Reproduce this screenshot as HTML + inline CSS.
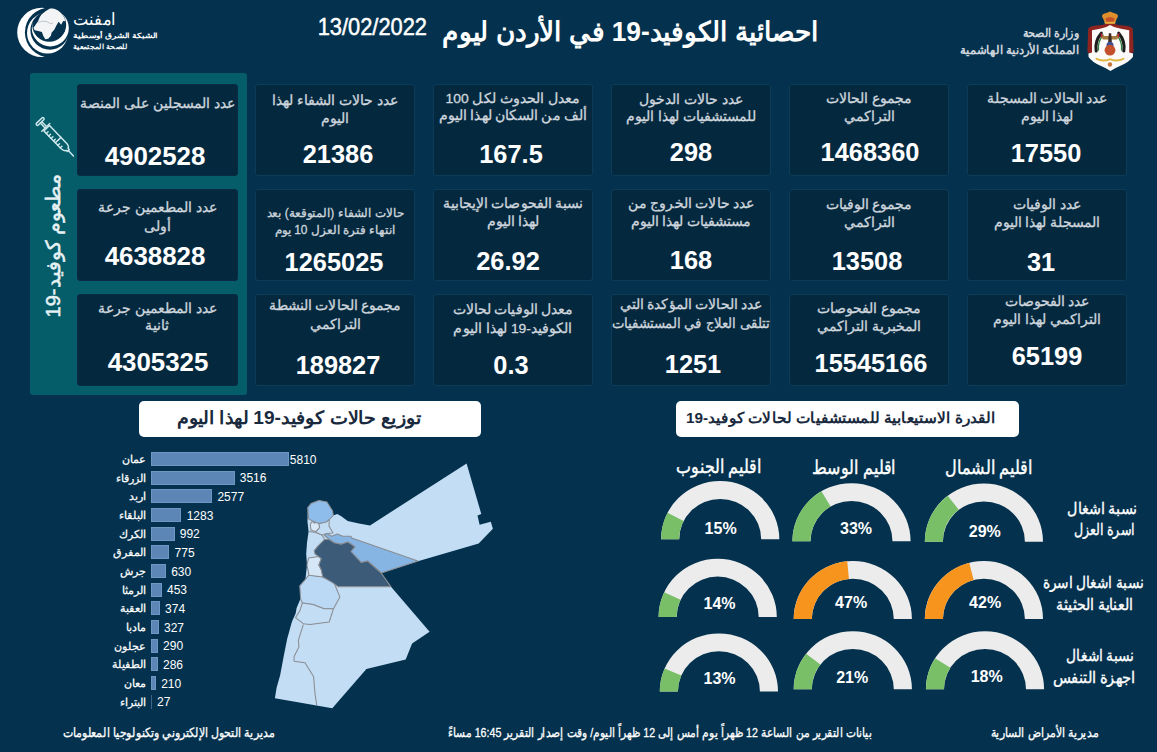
<!DOCTYPE html>
<html lang="ar">
<head>
<meta charset="utf-8">
<title>احصائية الكوفيد-19 في الأردن</title>
<style>
html,body{margin:0;padding:0;}
body{width:1157px;height:752px;overflow:hidden;background:#04324e;font-family:"Liberation Sans",sans-serif;color:#fff;position:relative;}
.abs{position:absolute;}
.card{position:absolute;background:#04293f;border:1px solid #0c3c58;border-radius:3px;box-sizing:border-box;}
.t{position:absolute;white-space:nowrap;transform:translate(-50%,-50%);line-height:1;direction:rtl;}
.lbl{color:#cfd6dd;font-size:13.7px;-webkit-text-stroke:0.3px #cfd6dd;}
.num{color:#fff;font-weight:bold;font-size:25px;direction:ltr;transform:translate(-50%,-50%) scaleX(1.015);}
.vnum{color:#fff;font-weight:bold;font-size:25px;direction:ltr;transform:translate(-50%,-50%) scaleX(1.035);}
.teal{position:absolute;left:30px;top:73px;width:217px;height:322px;background:#065d6a;border-radius:3px;}
.wbox{position:absolute;background:#fff;border-radius:5px;}
.wtxt{color:#0b2d4c;font-weight:bold;}
.bar{position:absolute;left:151px;height:14px;background:#5b86b6;border:1px solid #6e97c4;box-sizing:border-box;}
.bname{position:absolute;white-space:nowrap;line-height:1;font-size:11.2px;-webkit-text-stroke:0.25px #fff;color:#fff;direction:rtl;transform:translate(-100%,-50%);}
.bval{position:absolute;white-space:nowrap;line-height:1;font-size:12px;color:#fff;transform:translate(0,-50%);}
.pct{color:#fff;font-weight:bold;font-size:16px;direction:ltr;}
.reg{color:#fff;font-size:18px;}
.rowl{color:#fff;font-size:15px;}
.foot{color:#fff;font-size:12px;font-weight:bold;}
</style>
</head>
<body>

<svg class="abs" style="left:10px;top:0px" width="70" height="64" viewBox="10 0 70 64">
<defs>
<mask id="m1"><rect x="0" y="0" width="90" height="70" fill="#fff"/><circle cx="49.8" cy="32.4" r="24.9" fill="#000"/></mask>
<mask id="m2"><rect x="0" y="0" width="90" height="70" fill="#fff"/><circle cx="49.8" cy="30.4" r="19.4" fill="#000"/></mask>
<mask id="m3"><rect x="0" y="0" width="90" height="70" fill="#fff"/><circle cx="49.2" cy="24.7" r="17" fill="#000"/></mask>
<clipPath id="gc"><circle cx="49.2" cy="24.7" r="16.6"/></clipPath>
</defs>
<circle cx="41.9" cy="32.4" r="24.7" fill="#fff" mask="url(#m1)"/>
<circle cx="47.5" cy="33" r="20.5" fill="#fff" mask="url(#m2)"/>
<circle cx="50.3" cy="28" r="18.5" fill="#fff" mask="url(#m3)"/>
<g clip-path="url(#gc)" fill="#f3f4f5">
<path d="M41.5 14.5 L45.8 11.1 L50 8.5 L56 8.1 L61.1 11.1 L64.5 16.2 L65.8 21.3 L63.2 20.9 L61.1 24.7 L58.6 21.7 L56.4 25.6 L54.3 29.8 L51.7 32.4 L50.9 35.8 L48.3 38.8 L45.3 39.2 L43.2 35.8 L41.9 31.9 L38.1 31.1 L34.7 30.2 L33.4 28.1 L35.6 24.7 L38.1 21.3 L39.8 17 Z"/>
<path d="M38.3 22.3 L43 21.2 L47 21.6 L50.5 23.6 L53 23" fill="none" stroke="#a9b3bc" stroke-width="0.7"/>
</g>
</svg>

<svg class="abs" style="left:1084px;top:8px" width="54" height="68" viewBox="1084 8 54 68">
<path d="M1110 22.5 Q1104 25 1096 25.5 Q1090 26 1088.2 28.5 L1087.4 52 Q1089 54 1092 53 L1128 53 Q1131 54 1133.6 52 L1132.8 28.5 Q1131 26 1124 25.5 Q1116 25 1110 22.5 Z" fill="#8e2320"/>
<path d="M1110 25 Q1106 28 1100 28.8 L1092 30.2 L1092 52.5 L1088.4 53.5 L1088.6 57 Q1092 62 1100 65.5 Q1106 68 1110.5 71 Q1115 68 1121 65.5 Q1129 62 1132.9 57 L1133.1 53.5 L1129.2 52.5 L1129.2 30.2 L1121 28.8 Q1114.5 28 1110 25 Z" fill="#fbfaf8"/>
<path d="M1105 23.4 L1103.4 19 Q1100.4 15 1104 13.8 Q1107 12.8 1110 11.4 Q1113 12.8 1116 13.8 Q1119.6 15 1116.6 19 L1115 23.4 Z" fill="#de8f2b"/>
<path d="M1106.4 22.6 L1105.4 18.6 Q1110 15.4 1114.6 18.6 L1113.6 22.6 Z" fill="#c5522a"/>
<rect x="1104.8" y="21.8" width="10.4" height="1.9" fill="#e8b13c"/>
<g fill="none" stroke-linecap="round">
<path d="M1101.3 33.2 Q1094.6 41 1096.2 51" stroke="#1d1d1f" stroke-width="3.1"/>
<path d="M1103 35 Q1097.6 42 1098.4 50" stroke="#2b7d3b" stroke-width="1.3"/>
<path d="M1118.7 33.2 Q1125.4 41 1123.8 51" stroke="#1d1d1f" stroke-width="3.1"/>
<path d="M1117 35 Q1122.4 42 1121.6 50" stroke="#2b7d3b" stroke-width="1.3"/>
</g>
<path d="M1100.3 32.6 L1104.2 36.6 L1101.3 38 Z" fill="#c3262d"/>
<path d="M1119.7 32.6 L1115.8 36.6 L1118.7 38 Z" fill="#c3262d"/>
<path d="M1101.6 36 L1118.4 36 L1117.3 39.6 L1102.7 39.6 Z" fill="#a57c3e"/>
<path d="M1108.8 33.3 L1111.2 33.3 L1111.9 43 L1108.1 43 Z" fill="#3b2b22"/>
<circle cx="1110" cy="45.2" r="3.5" fill="#3e4f93"/>
<circle cx="1110" cy="50.2" r="5.4" fill="#c4502b"/>
<path d="M1095.7 57.6 Q1103 61.2 1110 58.2 Q1117 61.2 1124.3 57.6 L1124.3 59.6 Q1117 63.2 1110 60.2 Q1103 63.2 1095.7 59.6 Z" fill="#e3b73f"/>
<circle cx="1110" cy="64.5" r="2.2" fill="#c8763a"/>
</svg>

<div class="teal"></div>
<svg class="abs" style="left:30px;top:110px" width="50" height="52" viewBox="30 110 50 52">
<g transform="translate(40.1,121.4) rotate(46)" fill="none" stroke="#cfe9ee" stroke-width="1.45" stroke-linecap="round" stroke-linejoin="round">
<rect x="-1.2" y="-5" width="2.6" height="10" rx="1.3"/>
<path d="M1.4 -1 L7.5 -1 M1.4 1 L7.5 1"/>
<path d="M8.2 -5.6 L8.2 5.6"/>
<path d="M9.5 -3.9 L34 -3.9 Q38.5 -3.5 38.8 -1.4 L40.6 -1.4 L40.6 1.4 L38.8 1.4 Q38.5 3.5 34 3.9 L9.5 3.9 Z"/>
<path d="M40.6 0 L48 0"/>
<path d="M26 -3.9 L26 3.9"/>
<path d="M13 3.9 L13 1.5 M16.5 3.9 L16.5 1.5 M20 3.9 L20 1.5 M23.5 3.9 L23.5 1.5 M29.5 3.9 L29.5 1.5 M33 3.9 L33 1.5"/>
</g>
</svg>

<div class="card" style="left:967px;top:84px;width:160px;height:92px;"></div>
<div class="t num" style="left:1045.5px;top:153.1px;">17550</div>
<div class="card" style="left:789px;top:84px;width:160px;height:92px;"></div>
<div class="t num" style="left:870px;top:151.8px;">1468360</div>
<div class="card" style="left:611px;top:84px;width:160px;height:92px;"></div>
<div class="t num" style="left:691px;top:151.6px;">298</div>
<div class="card" style="left:433px;top:84px;width:160px;height:92px;"></div>
<div class="t num" style="left:511px;top:153.5px;">167.5</div>
<div class="card" style="left:255px;top:84px;width:160px;height:92px;"></div>
<div class="t num" style="left:337.5px;top:153.5px;">21386</div>
<div class="card" style="left:967px;top:188.6px;width:160px;height:92px;"></div>
<div class="t num" style="left:1041px;top:261.5px;">31</div>
<div class="card" style="left:789px;top:188.6px;width:160px;height:92px;"></div>
<div class="t num" style="left:867px;top:261px;">13508</div>
<div class="card" style="left:611px;top:188.6px;width:160px;height:92px;"></div>
<div class="t num" style="left:691px;top:260.3px;">168</div>
<div class="card" style="left:433px;top:188.6px;width:160px;height:92px;"></div>
<div class="t num" style="left:507.5px;top:260.7px;">26.92</div>
<div class="card" style="left:255px;top:188.6px;width:160px;height:92px;"></div>
<div class="t num" style="left:333.5px;top:261.5px;">1265025</div>
<div class="card" style="left:967px;top:293.6px;width:160px;height:92px;"></div>
<div class="t num" style="left:1047px;top:356px;">65199</div>
<div class="card" style="left:789px;top:293.6px;width:160px;height:92px;"></div>
<div class="t num" style="left:870.5px;top:362.6px;">15545166</div>
<div class="card" style="left:611px;top:293.6px;width:160px;height:92px;"></div>
<div class="t num" style="left:692.5px;top:364px;">1251</div>
<div class="card" style="left:433px;top:293.6px;width:160px;height:92px;"></div>
<div class="t num" style="left:511px;top:364.5px;">0.3</div>
<div class="card" style="left:255px;top:293.6px;width:160px;height:92px;"></div>
<div class="t num" style="left:338px;top:364.5px;">189827</div>
<div class="card" style="left:77px;top:84px;width:160.5px;height:92px;border-color:#0a2a45;"></div>
<div class="t vnum" style="left:154.95px;top:156.2px;">4902528</div>
<div class="card" style="left:77px;top:188.6px;width:160.5px;height:92px;border-color:#0a2a45;"></div>
<div class="t vnum" style="left:154.95px;top:255.5px;">4638828</div>
<div class="card" style="left:77px;top:293.6px;width:160.5px;height:92px;border-color:#0a2a45;"></div>
<div class="t vnum" style="left:158.25px;top:361.8px;">4305325</div>
<div class="wbox" style="left:139px;top:401px;width:342px;height:35.5px;"></div>
<div class="bar" style="top:452px;width:138px;"></div>
<div class="bval" style="left:289.8px;top:459.7px;">5810</div>
<div class="bar" style="top:470.66px;width:83.5126px;"></div>
<div class="bval" style="left:239.713px;top:478.36px;">3516</div>
<div class="bar" style="top:489.32px;width:61.2093px;"></div>
<div class="bval" style="left:217.409px;top:497.02px;">2577</div>
<div class="bar" style="top:507.98px;width:30.474px;"></div>
<div class="bval" style="left:186.674px;top:515.68px;">1283</div>
<div class="bar" style="top:526.64px;width:23.5621px;"></div>
<div class="bval" style="left:179.762px;top:534.34px;">992</div>
<div class="bar" style="top:545.3px;width:18.4079px;"></div>
<div class="bval" style="left:174.608px;top:553px;">775</div>
<div class="bar" style="top:563.96px;width:14.9639px;"></div>
<div class="bval" style="left:171.164px;top:571.66px;">630</div>
<div class="bar" style="top:582.62px;width:10.7597px;"></div>
<div class="bval" style="left:166.96px;top:590.32px;">453</div>
<div class="bar" style="top:601.28px;width:8.8833px;"></div>
<div class="bval" style="left:165.083px;top:608.98px;">374</div>
<div class="bar" style="top:619.94px;width:7.76695px;"></div>
<div class="bval" style="left:163.967px;top:627.64px;">327</div>
<div class="bar" style="top:638.6px;width:6.88812px;"></div>
<div class="bval" style="left:163.088px;top:646.3px;">290</div>
<div class="bar" style="top:657.26px;width:6.79312px;"></div>
<div class="bval" style="left:162.993px;top:664.96px;">286</div>
<div class="bar" style="top:675.92px;width:4.98795px;"></div>
<div class="bval" style="left:161.188px;top:683.62px;">210</div>
<div class="bar" style="top:694.58px;width:0.8px;border:none;background:#3f6489;"></div>
<div class="bval" style="left:157px;top:702.28px;">27</div>
<svg class="abs" style="left:270px;top:455px" width="230" height="260" viewBox="270 455 230 260">
<g stroke="#8a8d92" stroke-width="1.05" stroke-linejoin="round">
<!-- whole country base -->
<path fill="#c3ddf5" stroke="none" d="M307.8 507.6 L311 503.6 L318.9 500.4 L326.9 502 L332.5 510.8 L333.3 515.5 L337.3 514 L341.3 516.3 L347.7 521.1 L358.9 523.5 L370 525.4 L466.6 463.5 L481.3 514 L477.5 515.4 L479.6 524.7 L490.8 521.8 L492.9 528.7 L478.7 543.4 L417.9 561.3 L381.2 573 L390.8 586.6 L429.6 631.7 L412.1 643.6 L405.7 659.6 L366.4 668.9 L332.3 708.3 L274.9 698.3 L276.6 687.7 L280.2 674.9 L283.8 655.7 L287.2 638.7 L291.9 621.7 L295.7 613.2 L296.6 608.1 L300.6 598.6 L299.8 585.8 L305.4 579.4 L307 565 L306.2 553.9 L307 542.7 L308.6 531.5 L307.5 521.9 Z"/>
<!-- Karak -->
<path fill="#bbd9f5" d="M299.8 585.8 L305.4 579.4 L308.9 575 L321 576.5 L333.5 581.3 L337 590 L339.9 596.9 L333.5 608.7 L324 608.7 L313 604.5 L302.4 603 L300.6 598.6 Z"/>
<!-- Tafilah -->
<path fill="#c3ddf5" d="M302.4 603 L313 604.5 L324 608.7 L333.5 608.7 L329.2 622 L310.2 624.6 L303.3 623.7 L295.5 617.7 L299.8 610.8 Z"/>
<!-- Aqaba / Maan border -->
<path fill="none" d="M303.3 624.6 L298.4 640.2 L298.9 647.1 L294.1 656.6 L294.1 661.3 L305 662.7 L313.6 676.5 L315 693.8 L316.7 705"/>
<!-- Madaba -->
<path fill="#d5e6f6" d="M308.6 558 L318.9 556.5 L321.3 558.6 L318.9 565 L321.3 569.8 L322.9 577 L309 575.2 L307 565 Z"/>
<!-- Balqa outline -->
<path fill="none" d="M308.6 531.5 L316 532.5 L322 535 L324.5 539.5"/>
<!-- Ajloun -->
<path fill="#d8e8f6" d="M310.2 524.3 L312.6 521.1 L314.5 523.3 L316.6 521.9 L318.9 523.5 L319.7 527.5 L315.8 531.8 L311 529.9 Z"/>
<!-- Jerash -->
<path fill="#c3ddf5" d="M319.7 527.5 L318.9 523.5 L326.1 521.9 L329.3 519.5 L329 526 L333 533 L326.9 533.4 L322 535 L316 532.5 L315.8 531.8 Z"/>
<!-- Irbid -->
<path fill="#8fbdeb" d="M307.8 507.6 L311 503.6 L318.9 500.4 L326.9 502 L332.5 510.8 L333.3 515.5 L329.3 519.5 L326.1 521.9 L318.9 523.5 L312.6 521.1 L308.6 518.7 Z"/>
<!-- Zarqa -->
<path fill="#86b5e3" d="M324.5 535.5 L326.9 533.4 L331.7 536.3 L337.3 533.9 L342.9 536.3 L350.9 536.3 L351.7 537.9 L417.9 561 L381.2 573 L367.6 561 L361.3 562.6 L350.9 551.5 L354.9 546.7 L347.7 541.9 L341.3 544.3 L334.1 542.7 L329.3 539.5 Z"/>
<!-- Amman -->
<path fill="#3b5b79" d="M314.2 550.7 L318.1 545.9 L324.5 539.5 L329.3 539.5 L334.1 542.7 L341.3 544.3 L347.7 541.9 L354.9 546.7 L350.9 551.5 L361.3 562.6 L367.6 561 L381.2 573 L390.8 586.6 L338.1 586.6 L332.5 582.6 L322.9 577 L321.3 569.8 L318.9 565 L321.3 558.6 L315 553.9 Z"/>
</g>
</svg>

<div class="wbox" style="left:676px;top:401px;width:343px;height:35.5px;"></div>
<svg class="abs" style="left:640px;top:470px" width="430" height="230" viewBox="640 470 430 230">
<path d="M661.10 539.20 A59.1 58.1 0 0 1 779.30 539.20 L761.20 539.20 A41 40.3063 0 0 0 679.20 539.20 Z" fill="#ececec"/>
<path d="M661.10 539.20 A59.1 58.1 0 0 1 667.54 512.82 L683.67 520.90 A41 40.3063 0 0 0 679.20 539.20 Z" fill="#79bf68"/>
<path d="M792.40 541.20 A59.1 58.1 0 0 1 910.60 541.20 L892.50 541.20 A41 40.3063 0 0 0 810.50 541.20 Z" fill="#ececec"/>
<path d="M792.40 541.20 A59.1 58.1 0 0 1 821.42 491.19 L830.63 506.51 A41 40.3063 0 0 0 810.50 541.20 Z" fill="#79bf68"/>
<path d="M924.80 541.70 A59.1 58.1 0 0 1 1043.00 541.70 L1024.90 541.70 A41 40.3063 0 0 0 942.90 541.70 Z" fill="#ececec"/>
<path d="M924.80 541.70 A59.1 58.1 0 0 1 947.68 495.79 L958.77 509.85 A41 40.3063 0 0 0 942.90 541.70 Z" fill="#79bf68"/>
<path d="M658.60 616.90 A59.1 58.1 0 0 1 776.80 616.90 L758.70 616.90 A41 40.3063 0 0 0 676.70 616.90 Z" fill="#ececec"/>
<path d="M658.60 616.90 A59.1 58.1 0 0 1 664.22 592.16 L680.60 599.74 A41 40.3063 0 0 0 676.70 616.90 Z" fill="#79bf68"/>
<path d="M793.70 619.10 A59.1 58.1 0 0 1 911.90 619.10 L893.80 619.10 A41 40.3063 0 0 0 811.80 619.10 Z" fill="#ececec"/>
<path d="M793.70 619.10 A59.1 58.1 0 0 1 847.24 561.26 L848.94 578.97 A41 40.3063 0 0 0 811.80 619.10 Z" fill="#f7941e"/>
<path d="M924.80 619.10 A59.1 58.1 0 0 1 1043.00 619.10 L1024.90 619.10 A41 40.3063 0 0 0 942.90 619.10 Z" fill="#ececec"/>
<path d="M924.80 619.10 A59.1 58.1 0 0 1 969.20 562.83 L973.70 580.06 A41 40.3063 0 0 0 942.90 619.10 Z" fill="#f7941e"/>
<path d="M659.80 691.50 A59.1 58.1 0 0 1 778.00 691.50 L759.90 691.50 A41 40.3063 0 0 0 677.90 691.50 Z" fill="#ececec"/>
<path d="M659.80 691.50 A59.1 58.1 0 0 1 664.66 668.43 L681.27 675.49 A41 40.3063 0 0 0 677.90 691.50 Z" fill="#79bf68"/>
<path d="M793.70 689.30 A59.1 58.1 0 0 1 911.90 689.30 L893.80 689.30 A41 40.3063 0 0 0 811.80 689.30 Z" fill="#ececec"/>
<path d="M793.70 689.30 A59.1 58.1 0 0 1 806.10 653.69 L820.40 664.60 A41 40.3063 0 0 0 811.80 689.30 Z" fill="#79bf68"/>
<path d="M925.90 689.30 A59.1 58.1 0 0 1 1044.10 689.30 L1026.00 689.30 A41 40.3063 0 0 0 944.00 689.30 Z" fill="#ececec"/>
<path d="M925.90 689.30 A59.1 58.1 0 0 1 935.10 658.17 L950.38 667.70 A41 40.3063 0 0 0 944.00 689.30 Z" fill="#79bf68"/>
</svg>
<div class="t pct" style="left:720.6px;top:529.3px;">15%</div>
<div class="t pct" style="left:856px;top:529.1px;">33%</div>
<div class="t pct" style="left:984.8px;top:531.6px;">29%</div>
<div class="t pct" style="left:719.5px;top:603.9px;">14%</div>
<div class="t pct" style="left:851.1px;top:603px;">47%</div>
<div class="t pct" style="left:985.1px;top:603.2px;">42%</div>
<div class="t pct" style="left:719.5px;top:679.2px;">13%</div>
<div class="t pct" style="left:852.2px;top:678px;">21%</div>
<div class="t pct" style="left:986.7px;top:676.7px;">18%</div>
<svg class="abs" style="left:0;top:0;" width="1157" height="752" viewBox="0 0 1157 752" font-family="'Liberation Sans', sans-serif">
<text x="94.50" y="25.39" text-anchor="middle" textLength="42.80" lengthAdjust="spacingAndGlyphs" font-size="17" fill="#fff" direction="rtl">امفنت</text>
<text x="115.50" y="37.73" text-anchor="middle" textLength="84.80" lengthAdjust="spacingAndGlyphs" font-size="7" fill="#fff" font-weight="bold" direction="rtl">الشبكة الشرق أوسطية</text>
<text x="99.95" y="48.73" text-anchor="middle" textLength="53.70" lengthAdjust="spacingAndGlyphs" font-size="7" fill="#fff" font-weight="bold" direction="rtl">للصحة المجتمعية</text>
<text x="372.35" y="34.72" text-anchor="middle" textLength="109.30" lengthAdjust="spacingAndGlyphs" font-size="24" fill="#fff" stroke="#fff" stroke-width="0.5">13/02/2022</text>
<text x="630.70" y="40.86" text-anchor="middle" textLength="376.60" lengthAdjust="spacingAndGlyphs" font-size="27" fill="#fff" font-weight="bold" direction="rtl">احصائية الكوفيد-19 في الأردن ليوم</text>
<text x="1050.85" y="37.16" text-anchor="middle" textLength="56.70" lengthAdjust="spacingAndGlyphs" font-size="12" fill="#cfd6dd" font-weight="bold" direction="rtl">وزارة الصحة</text>
<text x="1019.75" y="53.86" text-anchor="middle" textLength="118.90" lengthAdjust="spacingAndGlyphs" font-size="12" fill="#cfd6dd" font-weight="bold" direction="rtl">المملكة الأردنية الهاشمية</text>
<text x="53.50" y="252.46" text-anchor="middle" textLength="143.50" lengthAdjust="spacingAndGlyphs" font-size="19.5" fill="#e6f1f3" direction="rtl" stroke="#e6f1f3" stroke-width="0.5" transform="rotate(-90 53.50 245.70)">مطعوم كوفيد-19</text>
<text x="1047.00" y="103.15" text-anchor="middle" textLength="121.00" lengthAdjust="spacingAndGlyphs" font-size="13.7" fill="#cfd6dd" direction="rtl" stroke="#cfd6dd" stroke-width="0.3">عدد الحالات المسجلة</text>
<text x="1047.00" y="121.25" text-anchor="middle" textLength="53.00" lengthAdjust="spacingAndGlyphs" font-size="13.7" fill="#cfd6dd" direction="rtl" stroke="#cfd6dd" stroke-width="0.3">لهذا اليوم</text>
<text x="869.00" y="103.15" text-anchor="middle" textLength="86.00" lengthAdjust="spacingAndGlyphs" font-size="13.7" fill="#cfd6dd" direction="rtl" stroke="#cfd6dd" stroke-width="0.3">مجموع الحالات</text>
<text x="869.00" y="120.55" text-anchor="middle" textLength="51.00" lengthAdjust="spacingAndGlyphs" font-size="13.7" fill="#cfd6dd" direction="rtl" stroke="#cfd6dd" stroke-width="0.3">التراكمي</text>
<text x="691.00" y="103.55" text-anchor="middle" textLength="104.00" lengthAdjust="spacingAndGlyphs" font-size="13.7" fill="#cfd6dd" direction="rtl" stroke="#cfd6dd" stroke-width="0.3">عدد حالات الدخول</text>
<text x="691.00" y="120.95" text-anchor="middle" textLength="130.00" lengthAdjust="spacingAndGlyphs" font-size="13.7" fill="#cfd6dd" direction="rtl" stroke="#cfd6dd" stroke-width="0.3">للمستشفيات لهذا اليوم</text>
<text x="513.00" y="102.55" text-anchor="middle" textLength="135.00" lengthAdjust="spacingAndGlyphs" font-size="13.7" fill="#cfd6dd" direction="rtl" stroke="#cfd6dd" stroke-width="0.3">معدل الحدوث لكل 100</text>
<text x="513.00" y="119.55" text-anchor="middle" textLength="149.00" lengthAdjust="spacingAndGlyphs" font-size="13.7" fill="#cfd6dd" direction="rtl" stroke="#cfd6dd" stroke-width="0.3">ألف من السكان لهذا اليوم</text>
<text x="335.00" y="104.75" text-anchor="middle" textLength="126.00" lengthAdjust="spacingAndGlyphs" font-size="13.7" fill="#cfd6dd" direction="rtl" stroke="#cfd6dd" stroke-width="0.3">عدد حالات الشفاء لهذا</text>
<text x="335.00" y="122.85" text-anchor="middle" textLength="28.00" lengthAdjust="spacingAndGlyphs" font-size="13.7" fill="#cfd6dd" direction="rtl" stroke="#cfd6dd" stroke-width="0.3">اليوم</text>
<text x="1047.00" y="209.25" text-anchor="middle" textLength="68.00" lengthAdjust="spacingAndGlyphs" font-size="13.7" fill="#cfd6dd" direction="rtl" stroke="#cfd6dd" stroke-width="0.3">عدد الوفيات</text>
<text x="1047.00" y="226.65" text-anchor="middle" textLength="107.00" lengthAdjust="spacingAndGlyphs" font-size="13.7" fill="#cfd6dd" direction="rtl" stroke="#cfd6dd" stroke-width="0.3">المسجلة لهذا اليوم</text>
<text x="869.00" y="209.25" text-anchor="middle" textLength="87.00" lengthAdjust="spacingAndGlyphs" font-size="13.7" fill="#cfd6dd" direction="rtl" stroke="#cfd6dd" stroke-width="0.3">مجموع الوفيات</text>
<text x="869.00" y="226.65" text-anchor="middle" textLength="51.00" lengthAdjust="spacingAndGlyphs" font-size="13.7" fill="#cfd6dd" direction="rtl" stroke="#cfd6dd" stroke-width="0.3">التراكمي</text>
<text x="691.00" y="208.15" text-anchor="middle" textLength="127.00" lengthAdjust="spacingAndGlyphs" font-size="13.7" fill="#cfd6dd" direction="rtl" stroke="#cfd6dd" stroke-width="0.3">عدد حالات الخروج من</text>
<text x="691.00" y="226.15" text-anchor="middle" textLength="121.00" lengthAdjust="spacingAndGlyphs" font-size="13.7" fill="#cfd6dd" direction="rtl" stroke="#cfd6dd" stroke-width="0.3">مستشفيات لهذا اليوم</text>
<text x="513.00" y="208.35" text-anchor="middle" textLength="141.00" lengthAdjust="spacingAndGlyphs" font-size="13.7" fill="#cfd6dd" direction="rtl" stroke="#cfd6dd" stroke-width="0.3">نسبة الفحوصات الإيجابية</text>
<text x="513.00" y="226.35" text-anchor="middle" textLength="53.00" lengthAdjust="spacingAndGlyphs" font-size="13.7" fill="#cfd6dd" direction="rtl" stroke="#cfd6dd" stroke-width="0.3">لهذا اليوم</text>
<text x="335.00" y="216.76" text-anchor="middle" textLength="137.00" lengthAdjust="spacingAndGlyphs" font-size="12" fill="#cfd6dd" direction="rtl" stroke="#cfd6dd" stroke-width="0.3">حالات الشفاء (المتوقعة) بعد</text>
<text x="335.00" y="234.26" text-anchor="middle" textLength="120.00" lengthAdjust="spacingAndGlyphs" font-size="12" fill="#cfd6dd" direction="rtl" stroke="#cfd6dd" stroke-width="0.3">انتهاء فترة العزل 10 يوم</text>
<text x="1047.00" y="306.05" text-anchor="middle" textLength="85.00" lengthAdjust="spacingAndGlyphs" font-size="13.7" fill="#cfd6dd" direction="rtl" stroke="#cfd6dd" stroke-width="0.3">عدد الفحوصات</text>
<text x="1047.00" y="323.55" text-anchor="middle" textLength="108.00" lengthAdjust="spacingAndGlyphs" font-size="13.7" fill="#cfd6dd" direction="rtl" stroke="#cfd6dd" stroke-width="0.3">التراكمي لهذا اليوم</text>
<text x="869.00" y="313.35" text-anchor="middle" textLength="104.00" lengthAdjust="spacingAndGlyphs" font-size="13.7" fill="#cfd6dd" direction="rtl" stroke="#cfd6dd" stroke-width="0.3">مجموع الفحوصات</text>
<text x="869.00" y="330.75" text-anchor="middle" textLength="104.00" lengthAdjust="spacingAndGlyphs" font-size="13.7" fill="#cfd6dd" direction="rtl" stroke="#cfd6dd" stroke-width="0.3">المخبرية التراكمي</text>
<text x="691.00" y="309.45" text-anchor="middle" textLength="143.00" lengthAdjust="spacingAndGlyphs" font-size="13.7" fill="#cfd6dd" direction="rtl" stroke="#cfd6dd" stroke-width="0.3">عدد الحالات المؤكدة التي</text>
<text x="691.00" y="327.85" text-anchor="middle" textLength="157.82" lengthAdjust="spacingAndGlyphs" font-size="13.7" fill="#cfd6dd" direction="rtl" stroke="#cfd6dd" stroke-width="0.3">تتلقى العلاج في المستشفيات</text>
<text x="513.00" y="314.05" text-anchor="middle" textLength="121.00" lengthAdjust="spacingAndGlyphs" font-size="13.7" fill="#cfd6dd" direction="rtl" stroke="#cfd6dd" stroke-width="0.3">معدل الوفيات لحالات</text>
<text x="513.00" y="332.65" text-anchor="middle" textLength="119.00" lengthAdjust="spacingAndGlyphs" font-size="13.7" fill="#cfd6dd" direction="rtl" stroke="#cfd6dd" stroke-width="0.3">الكوفيد-19 لهذا اليوم</text>
<text x="335.00" y="310.05" text-anchor="middle" textLength="133.00" lengthAdjust="spacingAndGlyphs" font-size="13.7" fill="#cfd6dd" direction="rtl" stroke="#cfd6dd" stroke-width="0.3">مجموع الحالات النشطة</text>
<text x="335.00" y="329.15" text-anchor="middle" textLength="51.00" lengthAdjust="spacingAndGlyphs" font-size="13.7" fill="#cfd6dd" direction="rtl" stroke="#cfd6dd" stroke-width="0.3">التراكمي</text>
<text x="157.25" y="108.15" text-anchor="middle" textLength="155.00" lengthAdjust="spacingAndGlyphs" font-size="14" fill="#cfd6dd" direction="rtl" stroke="#cfd6dd" stroke-width="0.3">عدد المسجلين على المنصة</text>
<text x="157.25" y="212.45" text-anchor="middle" textLength="119.00" lengthAdjust="spacingAndGlyphs" font-size="14" fill="#cfd6dd" direction="rtl" stroke="#cfd6dd" stroke-width="0.3">عدد المطعمين جرعة</text>
<text x="157.25" y="230.95" text-anchor="middle" textLength="27.00" lengthAdjust="spacingAndGlyphs" font-size="14" fill="#cfd6dd" direction="rtl" stroke="#cfd6dd" stroke-width="0.3">أولى</text>
<text x="157.25" y="312.65" text-anchor="middle" textLength="119.00" lengthAdjust="spacingAndGlyphs" font-size="14" fill="#cfd6dd" direction="rtl" stroke="#cfd6dd" stroke-width="0.3">عدد المطعمين جرعة</text>
<text x="157.25" y="330.25" text-anchor="middle" textLength="24.00" lengthAdjust="spacingAndGlyphs" font-size="14" fill="#cfd6dd" direction="rtl" stroke="#cfd6dd" stroke-width="0.3">ثانية</text>
<text x="299.00" y="424.24" text-anchor="middle" textLength="244.00" lengthAdjust="spacingAndGlyphs" font-size="18" fill="#1a2a3e" font-weight="bold" direction="rtl">توزيع حالات كوفيد-19 لهذا اليوم</text>
<text x="134.00" y="463.08" text-anchor="middle" textLength="24.00" lengthAdjust="spacingAndGlyphs" font-size="11.2" fill="#fff" direction="rtl" stroke="#fff" stroke-width="0.25">عمان</text>
<text x="131.00" y="481.74" text-anchor="middle" textLength="30.00" lengthAdjust="spacingAndGlyphs" font-size="11.2" fill="#fff" direction="rtl" stroke="#fff" stroke-width="0.25">الزرقاء</text>
<text x="137.50" y="500.40" text-anchor="middle" textLength="17.00" lengthAdjust="spacingAndGlyphs" font-size="11.2" fill="#fff" direction="rtl" stroke="#fff" stroke-width="0.25">اربد</text>
<text x="132.50" y="519.06" text-anchor="middle" textLength="27.00" lengthAdjust="spacingAndGlyphs" font-size="11.2" fill="#fff" direction="rtl" stroke="#fff" stroke-width="0.25">البلقاء</text>
<text x="132.50" y="537.72" text-anchor="middle" textLength="27.00" lengthAdjust="spacingAndGlyphs" font-size="11.2" fill="#fff" direction="rtl" stroke="#fff" stroke-width="0.25">الكرك</text>
<text x="129.50" y="556.38" text-anchor="middle" textLength="33.00" lengthAdjust="spacingAndGlyphs" font-size="11.2" fill="#fff" direction="rtl" stroke="#fff" stroke-width="0.25">المفرق</text>
<text x="133.00" y="575.04" text-anchor="middle" textLength="26.00" lengthAdjust="spacingAndGlyphs" font-size="11.2" fill="#fff" direction="rtl" stroke="#fff" stroke-width="0.25">جرش</text>
<text x="134.00" y="593.70" text-anchor="middle" textLength="24.00" lengthAdjust="spacingAndGlyphs" font-size="11.2" fill="#fff" direction="rtl" stroke="#fff" stroke-width="0.25">الرمثا</text>
<text x="133.00" y="612.36" text-anchor="middle" textLength="26.00" lengthAdjust="spacingAndGlyphs" font-size="11.2" fill="#fff" direction="rtl" stroke="#fff" stroke-width="0.25">العقبة</text>
<text x="136.00" y="631.02" text-anchor="middle" textLength="20.00" lengthAdjust="spacingAndGlyphs" font-size="11.2" fill="#fff" direction="rtl" stroke="#fff" stroke-width="0.25">مادبا</text>
<text x="130.00" y="649.68" text-anchor="middle" textLength="32.00" lengthAdjust="spacingAndGlyphs" font-size="11.2" fill="#fff" direction="rtl" stroke="#fff" stroke-width="0.25">عجلون</text>
<text x="129.00" y="668.34" text-anchor="middle" textLength="34.00" lengthAdjust="spacingAndGlyphs" font-size="11.2" fill="#fff" direction="rtl" stroke="#fff" stroke-width="0.25">الطفيلة</text>
<text x="135.00" y="687.00" text-anchor="middle" textLength="22.00" lengthAdjust="spacingAndGlyphs" font-size="11.2" fill="#fff" direction="rtl" stroke="#fff" stroke-width="0.25">معان</text>
<text x="133.00" y="705.66" text-anchor="middle" textLength="26.00" lengthAdjust="spacingAndGlyphs" font-size="11.2" fill="#fff" direction="rtl" stroke="#fff" stroke-width="0.25">البتراء</text>
<text x="840.75" y="423.20" text-anchor="middle" textLength="309.50" lengthAdjust="spacingAndGlyphs" font-size="15" fill="#1a2a3e" font-weight="bold" direction="rtl">القدرة الاستيعابية للمستشفيات لحالات كوفيد-19</text>
<text x="988.70" y="473.58" text-anchor="middle" textLength="87.00" lengthAdjust="spacingAndGlyphs" font-size="19" fill="#fff" direction="rtl" stroke="#fff" stroke-width="0.4">اقليم الشمال</text>
<text x="853.80" y="473.58" text-anchor="middle" textLength="83.00" lengthAdjust="spacingAndGlyphs" font-size="19" fill="#fff" direction="rtl" stroke="#fff" stroke-width="0.4">اقليم الوسط</text>
<text x="718.65" y="472.58" text-anchor="middle" textLength="84.70" lengthAdjust="spacingAndGlyphs" font-size="19" fill="#fff" direction="rtl" stroke="#fff" stroke-width="0.4">اقليم الجنوب</text>
<text x="1102.00" y="513.54" text-anchor="middle" textLength="70.00" lengthAdjust="spacingAndGlyphs" font-size="16" fill="#fff" direction="rtl" stroke="#fff" stroke-width="0.35">نسبة اشغال</text>
<text x="1103.75" y="534.54" text-anchor="middle" textLength="60.50" lengthAdjust="spacingAndGlyphs" font-size="16" fill="#fff" direction="rtl" stroke="#fff" stroke-width="0.35">اسرة العزل</text>
<text x="1092.95" y="587.54" text-anchor="middle" textLength="100.10" lengthAdjust="spacingAndGlyphs" font-size="16" fill="#fff" direction="rtl" stroke="#fff" stroke-width="0.35">نسبة اشغال اسرة</text>
<text x="1094.40" y="609.54" text-anchor="middle" textLength="76.80" lengthAdjust="spacingAndGlyphs" font-size="16" fill="#fff" direction="rtl" stroke="#fff" stroke-width="0.35">العناية الحثيثة</text>
<text x="1099.80" y="660.54" text-anchor="middle" textLength="67.60" lengthAdjust="spacingAndGlyphs" font-size="16" fill="#fff" direction="rtl" stroke="#fff" stroke-width="0.35">نسبة اشغال</text>
<text x="1093.90" y="682.54" text-anchor="middle" textLength="82.20" lengthAdjust="spacingAndGlyphs" font-size="16" fill="#fff" direction="rtl" stroke="#fff" stroke-width="0.35">اجهزة التنفس</text>
<text x="1044.50" y="737.00" text-anchor="middle" textLength="108.00" lengthAdjust="spacingAndGlyphs" font-size="13" fill="#fff" direction="rtl" stroke="#fff" stroke-width="0.3">مديرية الأمراض السارية</text>
<text x="660.00" y="737.00" text-anchor="middle" textLength="424.00" lengthAdjust="spacingAndGlyphs" font-size="13" fill="#fff" direction="rtl" stroke="#fff" stroke-width="0.3">بيانات التقرير من الساعة 12 ظهراً يوم أمس إلى 12 ظهراً اليوم/ وقت إصدار التقرير 16:45 مساءً</text>
<text x="168.70" y="737.00" text-anchor="middle" textLength="212.00" lengthAdjust="spacingAndGlyphs" font-size="13" fill="#fff" direction="rtl" stroke="#fff" stroke-width="0.3">مديرية التحول الإلكتروني وتكنولوجيا المعلومات</text>
</svg>
</body>
</html>
